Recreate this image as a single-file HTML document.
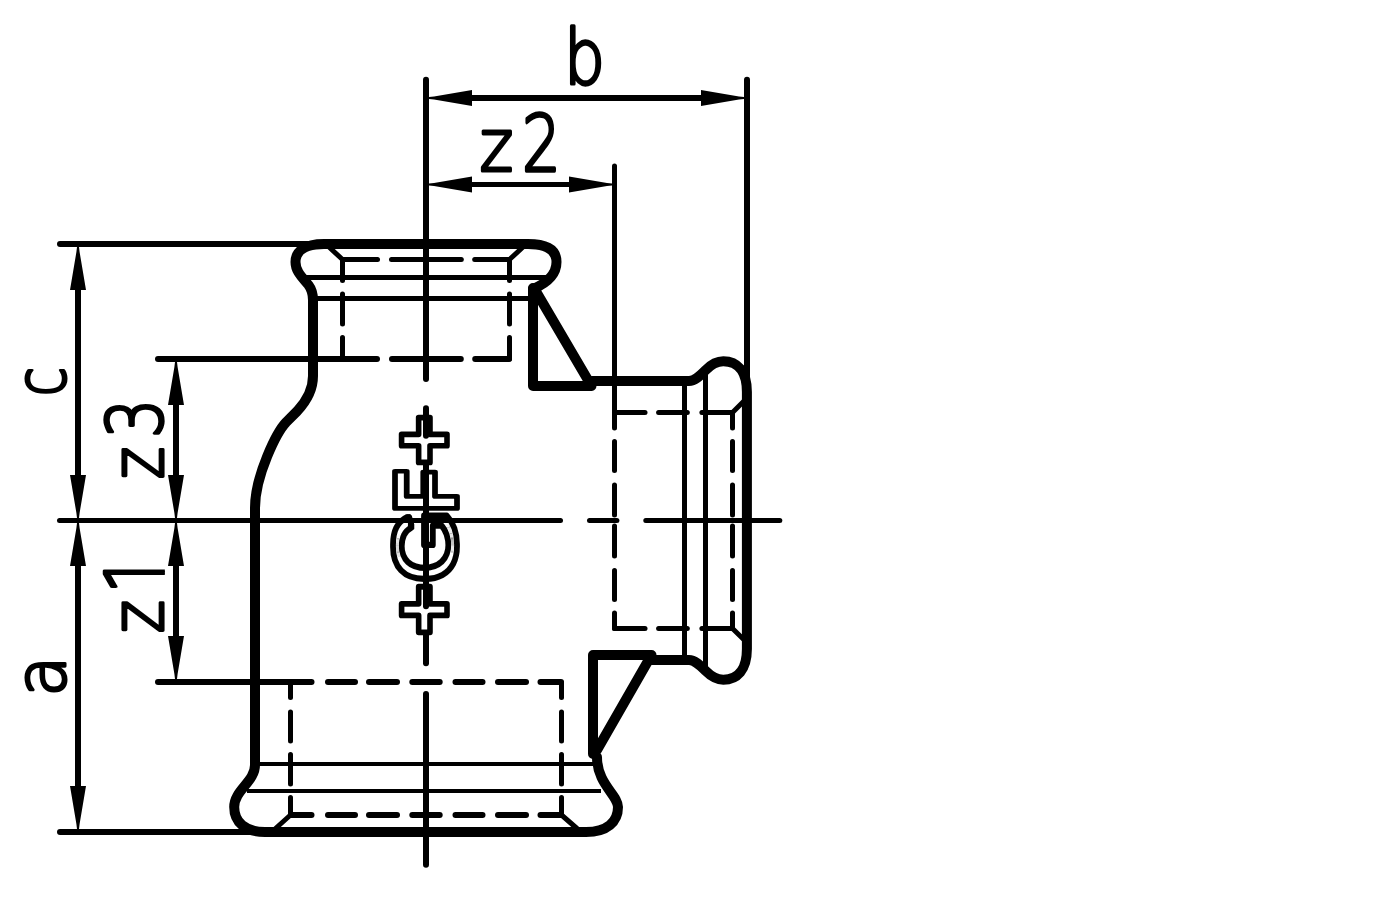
<!DOCTYPE html>
<html lang="en">
<head>
<meta charset="utf-8">
<title>Reducing tee fitting - dimension drawing (a, b, c, z1, z2, z3)</title>
<style>
html,body{margin:0;padding:0;background:#fff;}
body{width:1400px;height:900px;overflow:hidden;font-family:"Liberation Sans",sans-serif;}
svg{display:block;}
</style>
</head>
<body>
<svg width="1400" height="900" viewBox="0 0 1400 900">
<defs><filter id="bolden" filterUnits="userSpaceOnUse" x="380" y="400" width="90" height="250"><feMorphology operator="dilate" radius="1"/></filter><clipPath id="nofoot"><rect x="-20" y="-120" width="120" height="114.03"/></clipPath></defs>
<rect width="1400" height="900" fill="#fff"/>
<!-- +GF+ maker's mark, outlined, reading bottom-to-top -->
<g stroke-linejoin="round" stroke-linecap="round" filter="url(#bolden)">
<text transform="translate(453.43,635.10) rotate(-90) scale(0.9667,0.9383)" font-family="'Liberation Sans', sans-serif" font-weight="700" font-size="90" fill="#fff" stroke="#000" stroke-width="6">+</text><text transform="translate(455.22,582.56) rotate(-90) scale(1.0398,0.9702)" font-family="'Liberation Sans', sans-serif" font-weight="400" font-size="90" fill="#fff" stroke="#000" stroke-width="6">G</text><text transform="translate(455.81,512.06) rotate(-90) scale(0.7683,0.9635)" font-family="'Liberation Sans', sans-serif" font-weight="700" font-size="90" fill="#fff" stroke="#000" stroke-width="6">F</text><text transform="translate(453.43,465.08) rotate(-90) scale(0.9490,0.9383)" font-family="'Liberation Sans', sans-serif" font-weight="700" font-size="90" fill="#fff" stroke="#000" stroke-width="6">+</text>
</g>
<!-- drawing geometry -->
<g stroke="#000" fill="none" shape-rendering="geometricPrecision">
<line x1="426" y1="79.8" x2="426" y2="379" stroke-width="6" stroke-linecap="round"/>
<line x1="426" y1="408.3" x2="426" y2="435.7" stroke-width="6" stroke-linecap="round"/>
<line x1="426" y1="464" x2="426" y2="606.3" stroke-width="6" stroke-linecap="round"/>
<line x1="426" y1="635" x2="426" y2="663.3" stroke-width="6" stroke-linecap="round"/>
<line x1="426" y1="694" x2="426" y2="864.7" stroke-width="6" stroke-linecap="round"/>
<line x1="59.5" y1="520.5" x2="560.5" y2="520.5" stroke-width="5" stroke-linecap="round"/>
<line x1="589.5" y1="520.5" x2="616.9" y2="520.5" stroke-width="5" stroke-linecap="round"/>
<line x1="645.8" y1="520.5" x2="779.8" y2="520.5" stroke-width="5" stroke-linecap="round"/>
<line x1="470" y1="98" x2="703" y2="98" stroke-width="6" stroke-linecap="butt"/>
<polygon points="429,97 434,96.4 472,90 472,106 434,99.6 429,99" fill="#000" stroke="none"/>
<polygon points="744,99 739,99.6 701,106 701,90 739,96.4 744,97" fill="#000" stroke="none"/>
<line x1="747" y1="79.8" x2="747" y2="392" stroke-width="6" stroke-linecap="round"/>
<line x1="470" y1="184.5" x2="571" y2="184.5" stroke-width="5" stroke-linecap="butt"/>
<polygon points="429,183.5 434,182.9 472,176.5 472,192.5 434,186.1 429,185.5" fill="#000" stroke="none"/>
<polygon points="612,185.5 607,186.1 569,192.5 569,176.5 607,182.9 612,183.5" fill="#000" stroke="none"/>
<line x1="614.5" y1="166" x2="614.5" y2="428.1" stroke-width="5" stroke-linecap="round"/>
<line x1="60" y1="244" x2="319" y2="244" stroke-width="6" stroke-linecap="round"/>
<line x1="158" y1="359" x2="377" y2="359" stroke-width="6" stroke-linecap="round"/>
<line x1="158" y1="682" x2="311.5" y2="682" stroke-width="6" stroke-linecap="round"/>
<line x1="60" y1="832" x2="265" y2="832" stroke-width="6" stroke-linecap="round"/>
<line x1="78" y1="288" x2="78" y2="477" stroke-width="6" stroke-linecap="butt"/>
<line x1="78" y1="564" x2="78" y2="788" stroke-width="6" stroke-linecap="butt"/>
<polygon points="79,247 79.6,252 86,290 70,290 76.4,252 77,247" fill="#000" stroke="none"/>
<polygon points="77,518 76.4,513 70,475 86,475 79.6,513 79,518" fill="#000" stroke="none"/>
<polygon points="79,523 79.6,528 86,566 70,566 76.4,528 77,523" fill="#000" stroke="none"/>
<polygon points="77,829 76.4,824 70,786 86,786 79.6,824 79,829" fill="#000" stroke="none"/>
<line x1="176" y1="403" x2="176" y2="477" stroke-width="6" stroke-linecap="butt"/>
<line x1="176" y1="564" x2="176" y2="638" stroke-width="6" stroke-linecap="butt"/>
<polygon points="177,362 177.6,367 184,405 168,405 174.4,367 175,362" fill="#000" stroke="none"/>
<polygon points="175,518 174.4,513 168,475 184,475 177.6,513 177,518" fill="#000" stroke="none"/>
<polygon points="177,523 177.6,528 184,566 168,566 174.4,528 175,523" fill="#000" stroke="none"/>
<polygon points="175,679 174.4,674 168,636 184,636 177.6,674 177,679" fill="#000" stroke="none"/>
<line x1="305.5" y1="277.5" x2="547.5" y2="277.5" stroke-width="5" stroke-linecap="butt"/>
<line x1="316" y1="298.5" x2="531" y2="298.5" stroke-width="5" stroke-linecap="butt"/>
<line x1="259" y1="764" x2="593" y2="764" stroke-width="4" stroke-linecap="butt"/>
<line x1="247" y1="791" x2="601" y2="791" stroke-width="4" stroke-linecap="butt"/>
<line x1="684.5" y1="383" x2="684.5" y2="658" stroke-width="5" stroke-linecap="butt"/>
<line x1="705.5" y1="371" x2="705.5" y2="670" stroke-width="5" stroke-linecap="butt"/>
<line x1="342.5" y1="259.5" x2="377.5" y2="259.5" stroke-width="5" stroke-linecap="round"/>
<line x1="391.5" y1="259.5" x2="461.3" y2="259.5" stroke-width="5" stroke-linecap="round"/>
<line x1="474.7" y1="259.5" x2="509.5" y2="259.5" stroke-width="5" stroke-linecap="round"/>
<line x1="392" y1="359" x2="460.8" y2="359" stroke-width="6" stroke-linecap="round"/>
<line x1="475.2" y1="359" x2="509" y2="359" stroke-width="6" stroke-linecap="round"/>
<line x1="342.5" y1="260" x2="342.5" y2="280.5" stroke-width="5" stroke-linecap="round"/>
<line x1="342.5" y1="294" x2="342.5" y2="324" stroke-width="5" stroke-linecap="round"/>
<line x1="342.5" y1="337.5" x2="342.5" y2="359" stroke-width="5" stroke-linecap="round"/>
<line x1="509.5" y1="260" x2="509.5" y2="280.5" stroke-width="5" stroke-linecap="round"/>
<line x1="509.5" y1="294" x2="509.5" y2="324" stroke-width="5" stroke-linecap="round"/>
<line x1="509.5" y1="337.5" x2="509.5" y2="359" stroke-width="5" stroke-linecap="round"/>
<line x1="342.5" y1="259.5" x2="329.5" y2="247.5" stroke-width="5" stroke-linecap="round"/>
<line x1="509.5" y1="259.5" x2="522.5" y2="247.5" stroke-width="5" stroke-linecap="round"/>
<line x1="328" y1="682" x2="355" y2="682" stroke-width="6" stroke-linecap="round"/>
<line x1="369" y1="682" x2="397" y2="682" stroke-width="6" stroke-linecap="round"/>
<line x1="412.3" y1="682" x2="439.7" y2="682" stroke-width="6" stroke-linecap="round"/>
<line x1="455.5" y1="682" x2="482.5" y2="682" stroke-width="6" stroke-linecap="round"/>
<line x1="498" y1="682" x2="526" y2="682" stroke-width="6" stroke-linecap="round"/>
<line x1="540.5" y1="682" x2="561" y2="682" stroke-width="6" stroke-linecap="round"/>
<line x1="291" y1="815" x2="311.5" y2="815" stroke-width="6" stroke-linecap="round"/>
<line x1="328" y1="815" x2="355" y2="815" stroke-width="6" stroke-linecap="round"/>
<line x1="369" y1="815" x2="397" y2="815" stroke-width="6" stroke-linecap="round"/>
<line x1="412.3" y1="815" x2="439.7" y2="815" stroke-width="6" stroke-linecap="round"/>
<line x1="455.5" y1="815" x2="482.5" y2="815" stroke-width="6" stroke-linecap="round"/>
<line x1="498" y1="815" x2="526" y2="815" stroke-width="6" stroke-linecap="round"/>
<line x1="540.5" y1="815" x2="561" y2="815" stroke-width="6" stroke-linecap="round"/>
<line x1="290.5" y1="682.5" x2="290.5" y2="697.5" stroke-width="5" stroke-linecap="round"/>
<line x1="290.5" y1="712" x2="290.5" y2="741" stroke-width="5" stroke-linecap="round"/>
<line x1="290.5" y1="754.5" x2="290.5" y2="784" stroke-width="5" stroke-linecap="round"/>
<line x1="290.5" y1="797.5" x2="290.5" y2="815" stroke-width="5" stroke-linecap="round"/>
<line x1="561.5" y1="682.5" x2="561.5" y2="697.5" stroke-width="5" stroke-linecap="round"/>
<line x1="561.5" y1="712" x2="561.5" y2="741" stroke-width="5" stroke-linecap="round"/>
<line x1="561.5" y1="754.5" x2="561.5" y2="784" stroke-width="5" stroke-linecap="round"/>
<line x1="561.5" y1="797.5" x2="561.5" y2="815" stroke-width="5" stroke-linecap="round"/>
<line x1="290.5" y1="815" x2="275.5" y2="828.5" stroke-width="5" stroke-linecap="round"/>
<line x1="561.5" y1="815" x2="577" y2="828.5" stroke-width="5" stroke-linecap="round"/>
<line x1="614.5" y1="441.5" x2="614.5" y2="470.5" stroke-width="5" stroke-linecap="round"/>
<line x1="614.5" y1="485" x2="614.5" y2="515" stroke-width="5" stroke-linecap="round"/>
<line x1="614.5" y1="526" x2="614.5" y2="556" stroke-width="5" stroke-linecap="round"/>
<line x1="614.5" y1="570.5" x2="614.5" y2="599.5" stroke-width="5" stroke-linecap="round"/>
<line x1="614.5" y1="612.9" x2="614.5" y2="628.5" stroke-width="5" stroke-linecap="round"/>
<line x1="732.5" y1="412.5" x2="732.5" y2="428.1" stroke-width="5" stroke-linecap="round"/>
<line x1="732.5" y1="441.5" x2="732.5" y2="470.5" stroke-width="5" stroke-linecap="round"/>
<line x1="732.5" y1="485" x2="732.5" y2="515" stroke-width="5" stroke-linecap="round"/>
<line x1="732.5" y1="526" x2="732.5" y2="556" stroke-width="5" stroke-linecap="round"/>
<line x1="732.5" y1="570.5" x2="732.5" y2="599.5" stroke-width="5" stroke-linecap="round"/>
<line x1="732.5" y1="612.9" x2="732.5" y2="628.5" stroke-width="5" stroke-linecap="round"/>
<line x1="614.5" y1="412.5" x2="645" y2="412.5" stroke-width="5" stroke-linecap="round"/>
<line x1="658.6" y1="412.5" x2="687.3" y2="412.5" stroke-width="5" stroke-linecap="round"/>
<line x1="701.9" y1="412.5" x2="732.5" y2="412.5" stroke-width="5" stroke-linecap="round"/>
<line x1="614.5" y1="628.5" x2="645" y2="628.5" stroke-width="5" stroke-linecap="round"/>
<line x1="658.6" y1="628.5" x2="687.3" y2="628.5" stroke-width="5" stroke-linecap="round"/>
<line x1="701.9" y1="628.5" x2="732.5" y2="628.5" stroke-width="5" stroke-linecap="round"/>
<line x1="732.5" y1="412.5" x2="744.5" y2="400.5" stroke-width="5" stroke-linecap="round"/>
<line x1="732.5" y1="628.5" x2="744.5" y2="640.3" stroke-width="5" stroke-linecap="round"/>
<path d="M 533 289 C 547 283, 556.5 274, 556.5 262 C 556.5 250, 547 244, 528 244 L 324 244 C 305 244, 295.5 251, 295.5 262 C 295.5 272, 303 278, 308.5 285 C 311.5 289, 313 294, 313 300 L 313 376 C 313 392, 304.2 403.6, 297.2 411.1 L 286.1 422.2 C 277.1 431.7, 255 475, 255 508 L 255 765 C 255 782, 234.2 790, 234.2 807 C 234.2 822, 245 832, 265 832 L 586 832 C 607 832, 618 822, 618 807 C 618 795, 597 784, 597 757" stroke-width="10" stroke-linecap="round" stroke-linejoin="round"/>
<path d="M 593 754 L 593 655 L 651.5 655 L 597 750" stroke-width="10" stroke-linecap="round" stroke-linejoin="round"/>
<path d="M 535.5 290.6 L 591.5 386 L 533 386 L 533 288" stroke-width="10" stroke-linecap="round" stroke-linejoin="round"/>
<path d="M 592 381 L 689 381 C 695 381, 700 375.7, 705.5 370.2 C 711 364.7, 716 361.3, 723.3 361.3 C 737 361.3, 746.9 371, 746.9 392 L 746.9 520.5" stroke-width="10" stroke-linecap="round" stroke-linejoin="round"/>
<path d="M 651 660 L 689 660 C 695 660, 700 665.3, 705.5 670.8 C 711 676.3, 716 679.7, 723.3 679.7 C 737 679.7, 746.9 670, 746.9 649 L 746.9 520.5" stroke-width="10" stroke-linecap="round" stroke-linejoin="round"/>
</g>
<!-- dimension labels -->
<g stroke-linejoin="round" stroke-linecap="round">
<text transform="translate(563.99,84.01) scale(0.8062,0.9466)" font-family="'DejaVu Sans', 'Liberation Sans', sans-serif" font-weight="200" font-size="80" fill="#000" stroke="#000" stroke-width="3.5">b</text>
<text transform="translate(479.47,171.40) scale(0.8062,0.9133)" font-family="'DejaVu Sans', 'Liberation Sans', sans-serif" font-weight="200" font-size="80" fill="#000" stroke="#000" stroke-width="3.5">z</text><text transform="translate(522.07,171.28) scale(0.7617,0.9857)" font-family="'DejaVu Sans', 'Liberation Sans', sans-serif" font-weight="200" font-size="80" fill="#000" stroke="#000" stroke-width="3.5">2</text>
<text transform="translate(64.53,396.35) rotate(-90) scale(0.6712,0.8707)" font-family="'DejaVu Sans', 'Liberation Sans', sans-serif" font-weight="200" font-size="80" fill="#000" stroke="#000" stroke-width="3.5">c</text>
<text transform="translate(163.22,479.17) rotate(-90) scale(0.7726,0.9049)" font-family="'DejaVu Sans', 'Liberation Sans', sans-serif" font-weight="200" font-size="80" fill="#000" stroke="#000" stroke-width="3.5">z</text><text transform="translate(161.95,438.07) rotate(-90) scale(0.7694,0.9657)" font-family="'DejaVu Sans', 'Liberation Sans', sans-serif" font-weight="200" font-size="80" fill="#000" stroke="#000" stroke-width="3.5">3</text>
<text transform="translate(163.22,633.21) rotate(-90) scale(0.7933,0.9049)" font-family="'DejaVu Sans', 'Liberation Sans', sans-serif" font-weight="200" font-size="80" fill="#000" stroke="#000" stroke-width="3.5">z</text><text clip-path="url(#nofoot)" transform="translate(170.82,593.82) rotate(-90) scale(0.7139,1.0069)" font-family="'DejaVu Sans', 'Liberation Sans', sans-serif" font-weight="200" font-size="90" fill="#000" stroke="#000" stroke-width="3.5">1</text>
<text transform="translate(64.53,696.52) rotate(-90) scale(0.8293,0.8707)" font-family="'DejaVu Sans', 'Liberation Sans', sans-serif" font-weight="200" font-size="80" fill="#000" stroke="#000" stroke-width="3.5">a</text>
</g>
</svg>
</body>
</html>
